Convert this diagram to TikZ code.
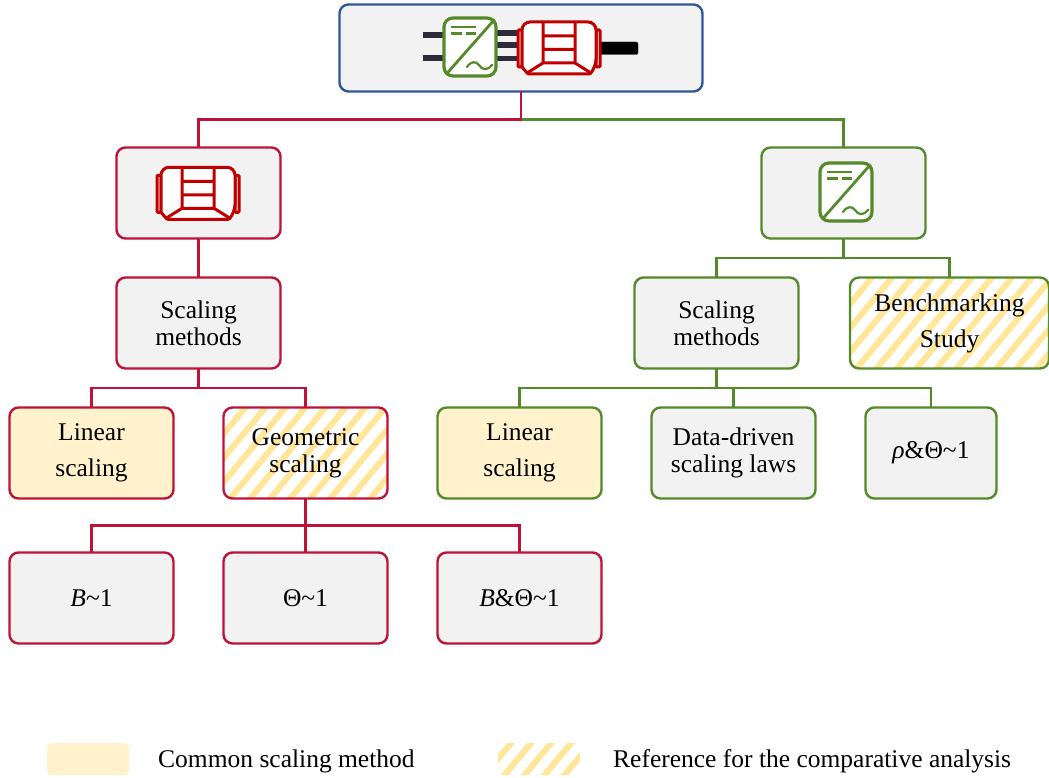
\documentclass[tikz,border=0pt]{standalone}
\usepackage{fontspec}
\setmainfont{Liberation Serif}
\usetikzlibrary{calc}
\definecolor{crim}{HTML}{BE1238}
\definecolor{motred}{HTML}{C00000}
\definecolor{grn}{HTML}{548A2A}
\definecolor{blu}{HTML}{2F5597}
\definecolor{boxgray}{HTML}{F2F2F2}
\definecolor{ylw}{HTML}{FFF2CC}
\definecolor{stripe}{HTML}{FFE699}
\definecolor{wire}{HTML}{2B2B3B}
\tikzset{
  x=1pt,y=-1pt,
  basebox/.style={rectangle,rounded corners=9pt,line width=2.4pt,minimum width=164pt,minimum height=91pt,inner sep=0pt,outer sep=0pt,align=center,text=black,font=\fontsize{25.5}{27}\selectfont},
  redbox/.style={basebox,draw=crim,fill=boxgray},
  greenbox/.style={basebox,draw=grn,fill=boxgray},
  common/.style={fill=ylw},
  hatched/.style={fill=white,path picture={
    \foreach \i in {-120,-100,...,240}
      \draw[stripe,line width=6pt] (path picture bounding box.south west) ++(\i,8) -- ++(96,-116);
  }},
  redline/.style={crim,line width=2.4pt},
  greenline/.style={grn,line width=2.4pt},
  legtext/.style={anchor=base west,inner sep=0pt,font=\fontsize{25.5}{27}\selectfont},
  iconinv/.style={grn,line width=3.2pt,fill=white,rounded corners=9pt},
  iconmot/.style={motred,line width=3pt,fill=white},
}
\newcommand{\inverterico}[2]{%
  \begin{scope}[shift={(#1,#2)}]
    \draw[iconinv] (-26,-29) rectangle (26,29);
    \draw[grn,line width=2.8pt] (-24,27.5) -- (24.5,-27.5);
    \draw[grn,line width=2.2pt] (-19,-20) -- (6,-20);
    \draw[grn,line width=2.2pt] (-19,-13.5) -- (-8,-13.5) (-4,-13.5) -- (6,-13.5);
    \draw[grn,line width=2.2pt,line cap=round] (-3,20) .. controls (1,14) and (6,14) .. (9,18) .. controls (12,23.5) and (18,23.5) .. (22,18);
  \end{scope}}
\newcommand{\motorico}[2]{%
  \begin{scope}[shift={(#1,#2)}]
    \draw[iconmot,rounded corners=1pt] (-41,-18) rectangle (-37,19);
    \draw[iconmot,rounded corners=1pt] (37,-18) rectangle (41,19);
    \draw[iconmot,rounded corners=8pt] (-37,19) -- (-37,-26) -- (37,-26) -- (37,19) [rounded corners=1pt] -- (31,26) -- (-31,26) -- cycle;
    \draw[motred,line width=3pt] (-16,-26) -- (-16,15) (16,-26) -- (16,15)
      (-16,-12) -- (16,-12) (-16,1.5) -- (16,1.5) (-16,15) -- (16,15)
      (-16,15) -- (-32,25) (16,15) -- (32,25);
  \end{scope}}
\newcommand{\conn}[3]{% style, from, to
  \draw[#1] (#2.south) -- ($(#2.south)!0.5!(#2.south|-#3.north)$) -| (#3.north);}
\begin{document}
\begin{tikzpicture}
\useasboundingbox (0,0) rectangle (1049,778);
% boxes
\node[basebox,draw=blu,fill=boxgray,minimum width=363pt,minimum height=87pt] (top) at (521,48) {};
\node[redbox] (motor) at (198.5,193) {};
\node[greenbox] (inv) at (843.5,193) {};
\node[redbox] (smL) at (198.5,323) {Scaling\\methods};
\node[greenbox] (smR) at (716.5,323) {Scaling\\methods};
\node[greenbox,hatched,minimum width=199pt] (bench) at (949.5,323) {Benchmarking\\[9pt]Study};
\node[redbox,common] (linL) at (91.5,453) {Linear\\[9pt]scaling};
\node[redbox,hatched] (geo) at (305.5,453) {Geometric\\scaling};
\node[greenbox,common] (linR) at (519.5,453) {Linear\\[9pt]scaling};
\node[greenbox] (data) at (733.5,453) {Data-driven\\scaling laws};
\node[greenbox,minimum width=131pt] (rho) at (931,453) {\textit{ρ}\&Θ\textasciitilde 1};
\node[redbox] (b1) at (91.5,598) {\textit{B}\textasciitilde 1};
\node[redbox] (t1) at (305.5,598) {Θ\textasciitilde 1};
\node[redbox] (bt1) at (519.5,598) {\textit{B}\&Θ\textasciitilde 1};
% connectors
\conn{greenline}{top}{inv}
\conn{redline}{top}{motor}
\draw[redline] (motor) -- (smL);
\conn{redline}{smL}{linL}
\conn{redline}{smL}{geo}
\conn{redline}{geo}{b1}
\conn{redline}{geo}{t1}
\conn{redline}{geo}{bt1}
\conn{greenline}{inv}{smR}
\conn{greenline}{inv}{bench}
\conn{greenline}{smR}{linR}
\conn{greenline}{smR}{data}
\conn{greenline}{smR}{rho}
% icons
\draw[wire,line width=5.5pt] (423,35) -- (444,35) (423,58) -- (444,58);
\draw[wire,line width=5.5pt] (497,33) -- (518,33) (497,45) -- (518,45) (497,58.5) -- (518,58.5);
\draw[black,fill=black,rounded corners=2pt] (600,42) rectangle (638,54.5);
\motorico{559}{48}
\inverterico{470}{47}
\motorico{198}{193.3}
\inverterico{846}{192}
% legend
\node[rectangle,rounded corners=4pt,fill=ylw,minimum width=82pt,minimum height=32pt,inner sep=0pt] (legA) at (88,759) {};
\node[legtext] (legAt) at (158,767) {Common scaling method};
\node[rectangle,rounded corners=4pt,hatched,minimum width=82pt,minimum height=32pt,inner sep=0pt] (legB) at (539,759) {};
\node[legtext] (legBt) at (613,767) {Reference for the comparative analysis};
\end{tikzpicture}
\end{document}
